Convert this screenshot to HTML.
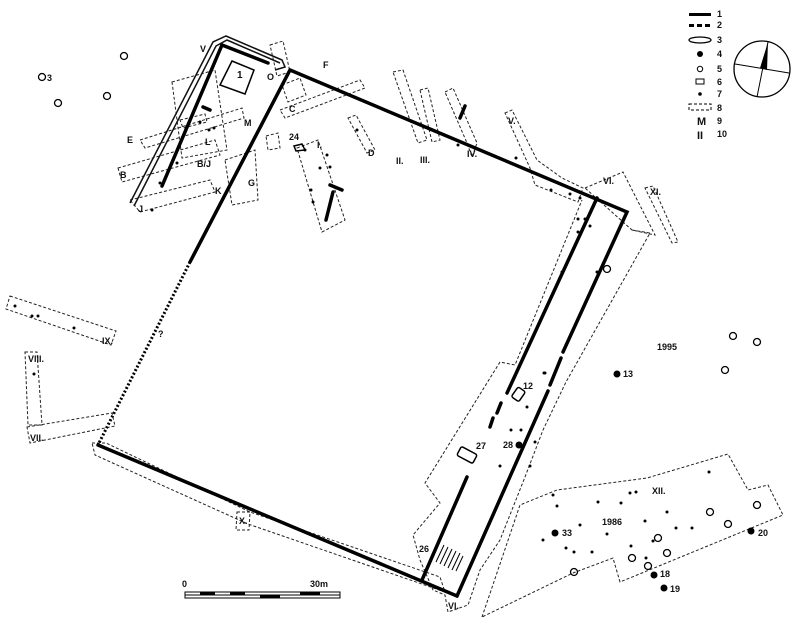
<!DOCTYPE html>
<html><head><meta charset="utf-8"><style>
html,body{margin:0;padding:0;background:#fff}
svg{display:block}
text{font-family:"Liberation Sans",sans-serif;font-weight:bold;fill:#111}
</style></head><body>
<svg width="800" height="629" viewBox="0 0 800 629" xmlns="http://www.w3.org/2000/svg">
<g fill="none" stroke="#222" stroke-width="1" stroke-dasharray="3,2">
<polygon points="10,296 116,331 111,345 6,309"/>
<polygon points="25,352 37,352 42,425 28,425"/>
<polygon points="27,427 112,413 115,426 30,443"/>
<polygon points="92,443 106,443 250,512 440,577 445,592 248,524 95,455"/>
<polygon points="237,512 250,512 249,530 236,530"/>
<polygon points="297,148 318,140 345,220 322,232"/>
<polygon points="348,118 356,115 375,150 367,153"/>
<polygon points="393,72 403,70 427,140 418,143"/>
<polygon points="420,90 428,88 440,140 432,142"/>
<polygon points="445,92 453,88 477,143 472,157 467,143"/>
<polygon points="505,113 512,110 537,160 562,178 583,188 578,202 535,185 530,168"/>
<polygon points="585,188 623,172 655,235 632,230"/>
<polygon points="645,188 653,186 678,242 672,243"/>
<polygon points="140,140 242,108 244,118 145,148"/>
<polygon points="118,168 215,140 220,155 122,182"/>
<polygon points="180,120 205,114 207,122 183,128"/>
<polygon points="130,200 210,180 215,192 140,212"/>
<polygon points="282,85 300,78 306,95 288,102"/>
<polygon points="280,110 360,80 365,88 285,118"/>
<polygon points="225,160 255,150 258,200 232,205"/>
<polygon points="172,82 215,70 227,150 182,158"/>
<polygon points="266,136 278,133 280,148 268,150"/>
<polygon points="270,45 283,41 290,72 277,76"/>
<polyline points="632,230 650,233 566,382 543,430 525,477 500,540 480,570 468,605 448,612 445,595 433,590 420,560 413,535 440,503 425,483 500,362 515,365 582,200"/>
<polygon points="482,617 520,505 557,490 647,478 728,454 748,490 768,485 783,515 620,582 613,558 573,573"/>
</g>
<g fill="none" stroke="#000" stroke-width="3.5" stroke-linecap="round">
<polyline points="190,262 290,70 627,212 563,352"/>
<line x1="561" y1="358" x2="550" y2="385"/>
<line x1="548" y1="391" x2="457" y2="596"/>
<line x1="457" y1="596" x2="98" y2="445"/>
<line x1="597" y1="198" x2="507" y2="393"/>
<line x1="501" y1="403" x2="497" y2="413"/>
<line x1="493" y1="418" x2="490" y2="427"/>
<line x1="467" y1="477" x2="422" y2="580"/>
<line x1="222" y1="45" x2="268" y2="63"/>
<line x1="222" y1="45" x2="162" y2="186"/>
<line x1="333" y1="192" x2="326" y2="220"/>
<line x1="330" y1="185" x2="342" y2="190"/>
<line x1="460" y1="118" x2="465" y2="106"/>
<line x1="203" y1="107" x2="210" y2="110"/>
</g>
<g fill="none" stroke="#000" stroke-width="3" stroke-dasharray="2,2">
<line x1="190" y1="262" x2="98" y2="445"/>
</g>
<g fill="none" stroke="#111" stroke-width="1.5">
<polyline points="130,203 213,42 226,36 282,60 285,67 275,70"/>
<polyline points="134,206 216,46 227,40 280,63"/>
</g>
<g fill="none" stroke="#000" stroke-width="1.5">
<polygon points="232,61 254,70 245,94 220,85"/>
<rect x="458" y="450" width="18" height="10" rx="2" transform="rotate(28 467 455)"/>
<rect x="512" y="390" width="12" height="9" rx="2" transform="rotate(-55 518 394)"/>
<polygon points="294,146 302,144 305,150 296,151"/>
</g>
<g stroke="#000" stroke-width="1">
<line x1="436" y1="562" x2="444" y2="545"/><line x1="440" y1="564" x2="448" y2="547"/><line x1="444" y1="566" x2="452" y2="549"/><line x1="448" y1="568" x2="456" y2="551"/><line x1="452" y1="570" x2="460" y2="553"/><line x1="456" y1="571" x2="463" y2="556"/>
</g>
<g fill="#000">
<circle cx="617" cy="374" r="3.5"/><circle cx="519" cy="445" r="3.5"/><circle cx="555" cy="533" r="3.5"/><circle cx="654" cy="575" r="3.5"/><circle cx="664" cy="588" r="3.5"/><circle cx="751" cy="531" r="3.5"/>
<circle cx="15" cy="306" r="1.5"/><circle cx="32" cy="316" r="1.5"/><circle cx="38" cy="316" r="1.5"/><circle cx="74" cy="328" r="1.5"/><circle cx="34" cy="374" r="1.5"/>
<circle cx="545" cy="373" r="1.5"/><circle cx="527" cy="407" r="1.5"/><circle cx="511" cy="430" r="1.5"/><circle cx="521" cy="430" r="1.5"/><circle cx="535" cy="442" r="1.5"/><circle cx="500" cy="466" r="1.5"/><circle cx="530" cy="466" r="1.5"/>
<circle cx="578" cy="219" r="1.5"/><circle cx="585" cy="219" r="1.5"/><circle cx="590" cy="226" r="1.5"/><circle cx="578" cy="232" r="1.5"/><circle cx="562" cy="272" r="1.5"/><circle cx="597" cy="272" r="1.5"/><circle cx="544" cy="373" r="1.5"/>
<circle cx="553" cy="495" r="1.5"/><circle cx="557" cy="506" r="1.5"/><circle cx="598" cy="502" r="1.5"/><circle cx="621" cy="503" r="1.5"/><circle cx="630" cy="493" r="1.5"/><circle cx="636" cy="492" r="1.5"/><circle cx="709" cy="472" r="1.5"/>
<circle cx="580" cy="525" r="1.5"/><circle cx="607" cy="534" r="1.5"/><circle cx="645" cy="521" r="1.5"/><circle cx="667" cy="512" r="1.5"/><circle cx="676" cy="528" r="1.5"/><circle cx="692" cy="528" r="1.5"/><circle cx="543" cy="540" r="1.5"/><circle cx="566" cy="548" r="1.5"/><circle cx="574" cy="552" r="1.5"/><circle cx="592" cy="552" r="1.5"/><circle cx="631" cy="546" r="1.5"/><circle cx="646" cy="558" r="1.5"/><circle cx="653" cy="541" r="1.5"/>
<circle cx="200" cy="122" r="1.5"/><circle cx="209" cy="130" r="1.5"/><circle cx="214" cy="128" r="1.5"/><circle cx="177" cy="163" r="1.5"/><circle cx="160" cy="183" r="1.5"/><circle cx="152" cy="210" r="1.5"/>
<circle cx="305" cy="150" r="1.5"/><circle cx="327" cy="155" r="1.5"/><circle cx="320" cy="168" r="1.5"/><circle cx="330" cy="167" r="1.5"/><circle cx="311" cy="190" r="1.5"/><circle cx="313" cy="202" r="1.5"/><circle cx="357" cy="130" r="1.5"/><circle cx="458" cy="145" r="1.5"/><circle cx="516" cy="158" r="1.5"/><circle cx="551" cy="190" r="1.5"/><circle cx="570" cy="194" r="1.5"/><circle cx="580" cy="198" r="1.5"/>
</g>
<g fill="none" stroke="#000" stroke-width="1.3">
<circle cx="42" cy="77" r="3.5"/><circle cx="58" cy="103" r="3.5"/><circle cx="107" cy="96" r="3.5"/><circle cx="124" cy="56" r="3.5"/>
<circle cx="607" cy="269" r="3.5"/><circle cx="733" cy="336" r="3.5"/><circle cx="757" cy="342" r="3.5"/><circle cx="725" cy="370" r="3.5"/>
<circle cx="710" cy="512" r="3.5"/><circle cx="757" cy="505" r="3.5"/><circle cx="728" cy="524" r="3.5"/><circle cx="658" cy="538" r="3.5"/><circle cx="667" cy="553" r="3.5"/><circle cx="632" cy="558" r="3.5"/><circle cx="648" cy="566" r="3.5"/><circle cx="574" cy="572" r="3.5"/>
</g>
<g font-size="9">
<text x="47" y="81">3</text><text x="237" y="78" font-size="10">1</text>
<text x="289" y="140">24</text><text x="523" y="389">12</text><text x="476" y="449">27</text><text x="503" y="448">28</text><text x="419" y="552">26</text>
<text x="623" y="377">13</text><text x="562" y="536">33</text><text x="660" y="577">18</text><text x="670" y="592">19</text><text x="758" y="536">20</text>
<text x="657" y="350">1995</text><text x="602" y="525">1986</text><text x="652" y="494">XII.</text>
<text x="200" y="52">V</text><text x="267" y="80">O</text><text x="323" y="68">F</text><text x="289" y="112">C</text><text x="244" y="126">M</text><text x="127" y="143">E</text><text x="205" y="145">L</text><text x="197" y="167">B/J</text><text x="120" y="178">B</text><text x="215" y="194">K</text><text x="248" y="186">G</text><text x="138" y="212">J</text>
<text x="317" y="148">I.</text><text x="368" y="156">D</text><text x="396" y="164">II.</text><text x="420" y="163">III.</text><text x="467" y="157">IV.</text><text x="508" y="124">V.</text><text x="603" y="184">VI.</text><text x="650" y="195">XI.</text>
<text x="102" y="344">IX.</text><text x="28" y="362">VIII.</text><text x="30" y="441">VII.</text><text x="239" y="524">X.</text><text x="448" y="609">VI.</text><text x="158" y="337">?</text>
</g>
<g stroke="#000" stroke-width="1" fill="none">
<rect x="185" y="592" width="155" height="6"/>
<line x1="185" y1="595" x2="340" y2="595"/>
</g>
<g fill="#000"><rect x="200" y="592" width="15" height="3"/><rect x="230" y="592" width="15" height="3"/><rect x="260" y="595" width="20" height="3"/><rect x="300" y="592" width="20" height="3"/></g>
<text x="182" y="587" font-size="9">0</text><text x="310" y="587" font-size="9">30m</text>
<g fill="#000">
<rect x="689" y="13" width="22" height="3"/>
<rect x="689" y="24" width="5" height="3"/><rect x="697" y="24" width="5" height="3"/><rect x="705" y="24" width="5" height="3"/>
<ellipse cx="700" cy="40" rx="11" ry="3" fill="none" stroke="#000" stroke-width="1.3"/>
<circle cx="700" cy="54" r="3"/><circle cx="700" cy="69" r="2.7" fill="none" stroke="#000"/>
<rect x="696" y="79" width="8" height="5" fill="none" stroke="#000"/>
<circle cx="700" cy="94" r="1.8"/>
<rect x="689" y="104" width="22" height="6" fill="none" stroke="#000" stroke-dasharray="3,2"/>
</g>
<g font-size="9"><text x="697" y="125" font-size="11">M</text><text x="697" y="139" font-size="11">II</text>
<text x="717" y="17">1</text><text x="717" y="28">2</text><text x="717" y="43">3</text><text x="717" y="57">4</text><text x="717" y="72">5</text><text x="717" y="85">6</text><text x="717" y="97">7</text><text x="717" y="111">8</text><text x="717" y="124">9</text><text x="717" y="137">10</text></g>
<circle cx="762" cy="69" r="28" fill="none" stroke="#000" stroke-width="1.3"/>
<line x1="735" y1="64" x2="789" y2="73" stroke="#000"/>
<line x1="768" y1="42" x2="757" y2="97" stroke="#000"/>
<polygon points="768,42 767,70 760,68" fill="#000"/>
</svg>
</body></html>
